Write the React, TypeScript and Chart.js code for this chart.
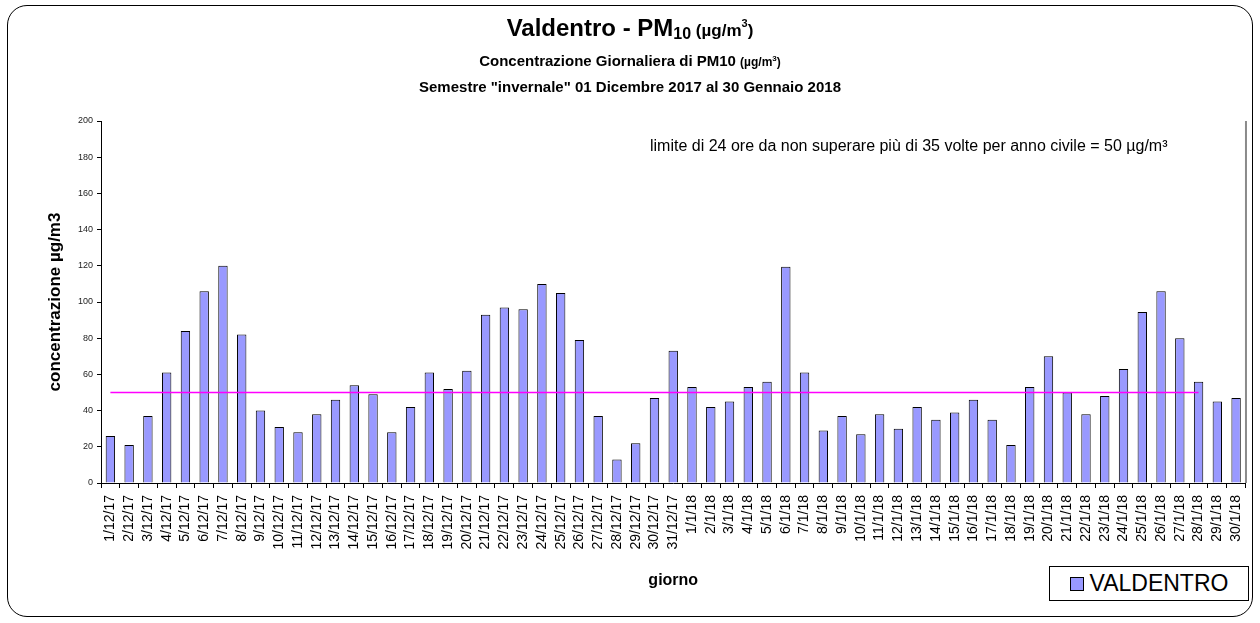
import React, { useEffect, useRef } from "react";
import { Chart, registerables } from "chart.js";

Chart.register(...registerables);

const categories: string[] = [
  "1/12/17", "2/12/17", "3/12/17", "4/12/17", "5/12/17", "6/12/17", "7/12/17", "8/12/17", "9/12/17", "10/12/17",
  "11/12/17", "12/12/17", "13/12/17", "14/12/17", "15/12/17", "16/12/17", "17/12/17", "18/12/17", "19/12/17", "20/12/17",
  "21/12/17", "22/12/17", "23/12/17", "24/12/17", "25/12/17", "26/12/17", "27/12/17", "28/12/17", "29/12/17", "30/12/17",
  "31/12/17",
  "1/1/18", "2/1/18", "3/1/18", "4/1/18", "5/1/18", "6/1/18", "7/1/18", "8/1/18", "9/1/18", "10/1/18",
  "11/1/18", "12/1/18", "13/1/18", "14/1/18", "15/1/18", "16/1/18", "17/1/18", "18/1/18", "19/1/18", "20/1/18",
  "21/1/18", "22/1/18", "23/1/18", "24/1/18", "25/1/18", "26/1/18", "27/1/18", "28/1/18", "29/1/18", "30/1/18",
];

const valdentro: number[] = [
  26, 21, 37, 61, 84, 106, 120, 82, 40, 31,
  28, 38, 46, 54, 49, 28, 42, 61, 52, 62,
  93, 97, 96, 110, 105, 79, 37, 13, 22, 47,
  73,
  53, 42, 45, 53, 56, 119.5, 61, 29, 37, 27,
  38, 30, 42, 35, 39, 46, 35, 21, 53, 70,
  50, 38, 48, 63, 94.5, 106, 80, 56, 45, 47,
];

const limite: (number | null)[] = [
  50, 50, 50, 50, 50, 50, 50, 50, 50, 50,
  50, 50, 50, 50, 50, 50, 50, 50, 50, 50,
  50, 50, 50, 50, 50, 50, 50, 50, 50, 50,
  50,
  50, 50, 50, 50, 50, 50, 50, 50, 50, 50,
  50, 50, 50, 50, 50, 50, 50, 50, 50, 50,
  50, 50, 50, 50, 50, 50, 50, 50, null, null,
];

const yTicks: number[] = [0, 20, 40, 60, 80, 100, 120, 140, 160, 180, 200];

const seriesLabel = "VALDENTRO";
const barColor = "#9999FF";
const limitColor = "#FF00FF";
const FONT = "'Liberation Sans', Arial, Helvetica, sans-serif";

const rightBorder = {
  id: "rightBorder",
  afterDatasetsDraw(chart: any) {
    const { ctx, chartArea } = chart;
    ctx.save();
    ctx.strokeStyle = "#8a8a8a";
    ctx.lineWidth = 2;
    ctx.beginPath();
    ctx.moveTo(chartArea.right + 0.5, chartArea.top);
    ctx.lineTo(chartArea.right + 0.5, chartArea.bottom);
    ctx.stroke();
    ctx.restore();
  },
};

export default function App() {
  const canvasRef = useRef<HTMLCanvasElement | null>(null);

  useEffect(() => {
    document.body.style.margin = "0";
    const canvas = canvasRef.current;
    if (!canvas) return;
    const chart = new Chart(canvas, {
      type: "bar",
      data: {
        labels: categories,
        datasets: [
          {
            type: "line" as any,
            label: "limite",
            data: limite,
            borderColor: limitColor,
            borderWidth: 1.5,
            pointRadius: 0,
            fill: false,
            order: 0,
          } as any,
          {
            type: "bar",
            label: seriesLabel,
            data: valdentro,
            backgroundColor: barColor,
            borderColor: "#000000",
            borderWidth: 1,
            barPercentage: 0.5,
            categoryPercentage: 1,
            order: 1,
          },
        ],
      },
      options: {
        responsive: false,
        animation: false,
        layout: { padding: { top: 121, right: 13, bottom: 0, left: 0 } },
        plugins: {
          legend: { display: false },
          title: { display: false },
          tooltip: { enabled: false },
        },
        scales: {
          x: {
            offset: true,
            grid: {
              offset: true,
              drawOnChartArea: false,
              drawTicks: true,
              tickLength: 5,
              color: "#000",
            },
            border: { display: true, color: "#000", width: 1 },
            ticks: {
              autoSkip: false,
              maxRotation: 90,
              minRotation: 90,
              padding: 7,
              color: "#000",
              font: { family: FONT, size: 14 },
            },
            title: {
              display: true,
              text: "giorno",
              color: "#000",
              font: { family: FONT, size: 16, weight: "bold" },
              padding: { top: 0, bottom: 33 },
            },
            afterFit(scale: any) {
              scale.height = 140;
            },
          },
          y: {
            min: 0,
            max: 200,
            afterBuildTicks(scale: any) {
              scale.ticks = yTicks.map((v) => ({ value: v }));
            },
            grid: {
              drawOnChartArea: false,
              drawTicks: true,
              tickLength: 4,
              color: "#000",
            },
            border: { display: true, color: "#000", width: 1 },
            ticks: {
              padding: 4,
              color: "#222",
              font: { family: FONT, size: 9 },
            },
            title: {
              display: true,
              text: "concentrazione µg/m3",
              color: "#000",
              font: { family: FONT, size: 17, weight: "bold" },
              padding: { top: 45, bottom: 0 },
            },
            afterFit(scale: any) {
              scale.width = 101;
            },
          },
        },
      },
      plugins: [rightBorder],
    });
    return () => chart.destroy();
  }, []);

  const titleStyle: React.CSSProperties = {
    position: "absolute",
    left: 0,
    width: 1260,
    textAlign: "center",
    fontFamily: FONT,
    fontWeight: "bold",
    color: "#000",
    whiteSpace: "nowrap",
    lineHeight: 1,
  };

  return (
    <div style={{ position: "relative", width: 1260, height: 623, background: "#fff", overflow: "hidden" }}>
      <canvas ref={canvasRef} width={1260} height={623} style={{ position: "absolute", left: 0, top: 0 }} />
      <div
        style={{
          position: "absolute",
          left: 7,
          top: 5,
          width: 1244,
          height: 610,
          border: "1.5px solid #000",
          borderRadius: 20,
          pointerEvents: "none",
        }}
      />
      <div style={{ ...titleStyle, top: 16, fontSize: 24 }}>
        Valdentro - PM<sub style={{ fontSize: 16, verticalAlign: "-3px" }}>10</sub>
        <span style={{ fontSize: 17 }}> (µg/m<sup style={{ fontSize: 11, verticalAlign: "9px" }}>3</sup>)</span>
      </div>
      <div style={{ ...titleStyle, top: 53, fontSize: 15 }}>
        Concentrazione Giornaliera di PM10{" "}
        <span style={{ fontSize: 12 }}>(µg/m<sup style={{ fontSize: 8, verticalAlign: "5px" }}>3</sup>)</span>
      </div>
      <div style={{ ...titleStyle, top: 79, fontSize: 15 }}>
        Semestre "invernale" 01 Dicembre 2017 al 30 Gennaio 2018
      </div>
      <div
        style={{
          position: "absolute",
          left: 650,
          top: 138,
          fontFamily: FONT,
          fontSize: 16,
          color: "#000",
          whiteSpace: "nowrap",
          lineHeight: 1,
        }}
      >
        limite di 24 ore da non superare più di 35 volte per anno civile = 50 µg/m³
      </div>
      <div
        style={{
          position: "absolute",
          left: 1049,
          top: 566,
          width: 200,
          height: 35,
          border: "1px solid #000",
          boxSizing: "border-box",
          display: "flex",
          alignItems: "center",
          justifyContent: "center",
          gap: 6,
          fontFamily: FONT,
          fontSize: 23,
          color: "#000",
          background: "#fff",
        }}
      >
        <span style={{ width: 14, height: 14, background: barColor, border: "1px solid #000", boxSizing: "border-box", display: "inline-block" }} />
        <span>{seriesLabel}</span>
      </div>
    </div>
  );
}
